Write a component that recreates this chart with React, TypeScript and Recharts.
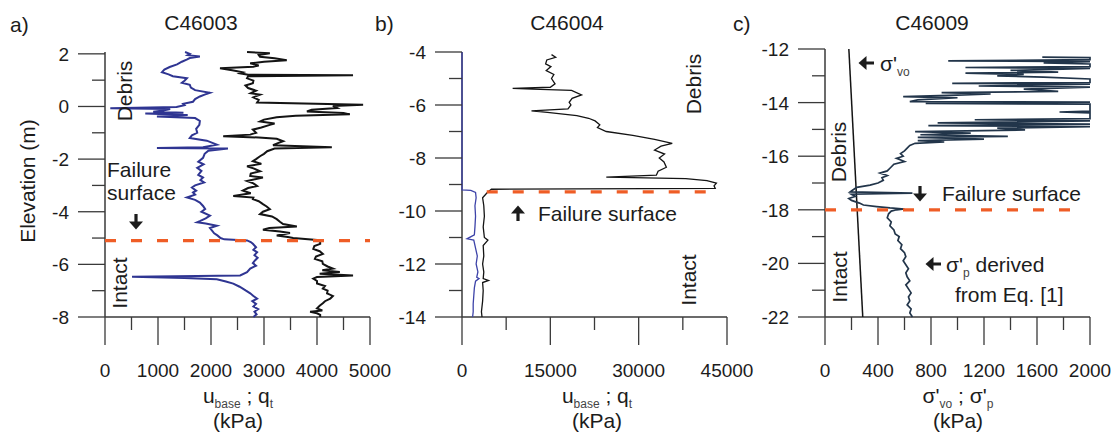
import React from 'react';
import { ScatterChart, Scatter, XAxis, YAxis } from 'recharts';

// [elevation (m), value (kPa)]
type Pt = [number, number];

// ---- C46003 ----
const ubaseC46003: Pt[] = [
  [2.07, 1510], [2.0, 1600], [1.95, 1560], [1.9, 1790], [1.84, 1600], [1.78, 1540], [1.7, 1450],
  [1.6, 1360], [1.5, 1220], [1.4, 1120], [1.3, 1075], [1.22, 1200], [1.15, 1280], [1.07, 1545],
  [0.98, 1500], [0.9, 1450], [0.82, 1600], [0.72, 1620], [0.62, 1700], [0.52, 1980], [0.45, 1880],
  [0.38, 1790], [0.28, 1700], [0.18, 1660], [0.1, 1475], [0.05, 1500], [-0.02, 1350], [-0.07, 100],
  [-0.1, 1230], [-0.15, 1100], [-0.2, 910], [-0.24, 1480], [-0.27, 760], [-0.32, 1560], [-0.38, 980],
  [-0.44, 1700], [-0.55, 1790], [-0.7, 1780], [-0.85, 1720], [-1.0, 1740], [-1.1, 1640], [-1.2, 1600],
  [-1.3, 1920], [-1.45, 2110], [-1.55, 1850], [-1.58, 980], [-1.6, 2320], [-1.68, 1950], [-1.8, 1880],
  [-1.95, 1850], [-2.1, 1760], [-2.2, 1860], [-2.33, 1740], [-2.45, 1820], [-2.6, 1760], [-2.7, 1850],
  [-2.8, 1800], [-2.89, 1870], [-3.0, 1700], [-3.08, 1640], [-3.2, 1720], [-3.27, 1660], [-3.35, 1700],
  [-3.46, 1545], [-3.55, 1700], [-3.65, 1790], [-3.78, 1850], [-3.9, 1890], [-4.0, 1820], [-4.15, 1980],
  [-4.25, 1900], [-4.35, 1800], [-4.4, 1740], [-4.45, 1900], [-4.53, 2110], [-4.62, 1980], [-4.72, 2020],
  [-4.82, 2060], [-4.9, 2120], [-5.0, 2180], [-5.05, 2250], [-5.09, 2680], [-5.15, 2750], [-5.22, 2790],
  [-5.35, 2850], [-5.45, 2800], [-5.54, 2870], [-5.65, 2820], [-5.75, 2880], [-5.85, 2830], [-5.95, 2790],
  [-6.05, 2850], [-6.16, 2740], [-6.3, 2680], [-6.42, 2550], [-6.47, 510], [-6.52, 1500], [-6.57, 2110],
  [-6.65, 2280], [-6.73, 2420], [-6.85, 2540], [-6.92, 2600], [-7.0, 2660], [-7.1, 2740], [-7.2, 2800],
  [-7.3, 2870], [-7.4, 2780], [-7.5, 2850], [-7.6, 2800], [-7.7, 2890], [-7.8, 2820], [-7.9, 2860],
  [-8.0, 2800],
];
const qtC46003: Pt[] = [
  [2.07, 2680], [2.02, 3110], [1.96, 2900], [1.89, 2925], [1.83, 3200], [1.76, 3430], [1.7, 3000],
  [1.64, 2740], [1.56, 2900], [1.51, 2800], [1.45, 2170], [1.38, 2400], [1.3, 2600], [1.26, 2550],
  [1.21, 2700], [1.19, 4680], [1.15, 2700], [1.07, 2680], [0.98, 2800], [0.88, 2790], [0.8, 2650],
  [0.7, 2700], [0.6, 2850], [0.5, 2750], [0.45, 2925], [0.35, 2800], [0.25, 2900], [0.15, 2870],
  [0.07, 4870], [0.02, 4300], [-0.06, 4380], [-0.12, 3900], [-0.19, 3810], [-0.25, 4500], [-0.3, 4620],
  [-0.35, 3600], [-0.41, 3240], [-0.5, 3000], [-0.57, 2925], [-0.65, 3200], [-0.7, 3110], [-0.8, 2950],
  [-0.88, 2790], [-1.0, 2850], [-1.07, 2740], [-1.13, 2230], [-1.18, 2900], [-1.23, 3240], [-1.32, 3360],
  [-1.4, 3250], [-1.47, 3170], [-1.55, 4280], [-1.6, 3200], [-1.7, 3060], [-1.8, 3000], [-1.89, 2925],
  [-2.0, 2850], [-2.08, 2790], [-2.18, 2950], [-2.27, 2680], [-2.35, 2800], [-2.46, 2925], [-2.55, 2750],
  [-2.64, 2740], [-2.7, 2980], [-2.83, 2680], [-2.92, 2800], [-3.02, 2870], [-3.1, 2700], [-3.2, 2600],
  [-3.3, 2750], [-3.4, 2420], [-3.46, 2800], [-3.52, 2790], [-3.6, 2900], [-3.71, 2980], [-3.8, 3050],
  [-3.9, 3110], [-4.0, 2980], [-4.09, 2925], [-4.18, 3150], [-4.28, 3240], [-4.38, 3300], [-4.47, 3360],
  [-4.56, 3620], [-4.62, 3100], [-4.68, 2980], [-4.75, 3300], [-4.81, 3490], [-4.9, 3240], [-4.96, 3450],
  [-5.0, 3550], [-5.07, 4000], [-5.15, 4060], [-5.22, 4060], [-5.3, 3950], [-5.41, 3930], [-5.5, 4050],
  [-5.6, 4110], [-5.7, 3980], [-5.79, 3960], [-5.88, 4100], [-5.98, 4110], [-6.08, 4200], [-6.16, 4300],
  [-6.22, 4100], [-6.29, 4430], [-6.36, 4050], [-6.42, 4680], [-6.48, 4000], [-6.54, 3930], [-6.63, 4000],
  [-6.73, 4000], [-6.82, 4150], [-6.92, 4110], [-7.0, 4200], [-7.1, 4190], [-7.2, 4300], [-7.3, 4250],
  [-7.4, 4150], [-7.48, 4110], [-7.57, 4050], [-7.67, 4000], [-7.75, 4100], [-7.8, 3870], [-7.86, 4000],
  [-7.92, 4060], [-8.0, 4060],
];

// ---- C46004 ----
const ubaseC46004: Pt[] = [
  [-4.0, 0], [-9.2, 0], [-9.22, 1500], [-9.3, 2300], [-9.5, 2400], [-9.8, 2200], [-10.2, 2300],
  [-10.6, 2200], [-10.9, 2100], [-11.05, 850], [-11.1, 2000], [-11.4, 2300], [-11.7, 2600], [-12.0, 2400],
  [-12.3, 2700], [-12.5, 2500], [-12.55, 2900], [-12.65, 2300], [-12.9, 2100], [-13.2, 2000],
  [-13.5, 1900], [-13.8, 1900], [-14.0, 1800],
];
const qtC46004: Pt[] = [
  [-4.1, 15200], [-4.2, 15900], [-4.3, 14400], [-4.45, 14200], [-4.55, 15100], [-4.7, 14300],
  [-4.85, 15600], [-5.0, 15200], [-5.2, 15800], [-5.33, 15000], [-5.37, 8600], [-5.4, 12000],
  [-5.45, 18600], [-5.62, 20300], [-5.75, 18700], [-5.9, 18200], [-6.0, 18500], [-6.15, 18000],
  [-6.22, 11800], [-6.28, 14500], [-6.4, 19500], [-6.5, 21500], [-6.6, 22600], [-6.75, 23400],
  [-6.85, 23000], [-7.0, 24500], [-7.15, 29000], [-7.3, 32700], [-7.45, 35700], [-7.55, 33800],
  [-7.7, 32700], [-7.85, 34400], [-8.0, 33500], [-8.15, 34300], [-8.35, 34700], [-8.5, 33300],
  [-8.65, 33000], [-8.72, 24500], [-8.78, 38000], [-8.85, 41600], [-8.95, 43200], [-9.05, 42800],
  [-9.15, 43000], [-9.18, 5000], [-9.3, 4300], [-9.5, 3500], [-9.8, 3700], [-10.2, 3800], [-10.6, 3600],
  [-11.0, 3800], [-11.1, 4400], [-11.3, 3600], [-11.7, 3700], [-12.0, 3500], [-12.3, 3700],
  [-12.55, 3600], [-12.62, 4500], [-12.7, 3500], [-13.0, 3600], [-13.4, 3500], [-13.8, 3300], [-14.0, 3400],
];

// ---- C46009 ----
const sigmaVoC46009: Pt[] = [[-12.0, 180], [-22.0, 285]];
const sigmaPC46009: Pt[] = [
  [-12.3, 1640], [-12.32, 2000], [-12.4, 2000], [-12.44, 930], [-12.47, 2000], [-12.52, 1650],
  [-12.56, 2000], [-12.66, 2000], [-12.69, 1060], [-12.72, 2000], [-12.8, 1400], [-12.86, 1760],
  [-12.9, 1060], [-12.95, 1500], [-13.0, 1300], [-13.05, 1650], [-13.12, 2000], [-13.25, 2000],
  [-13.28, 960], [-13.31, 2000], [-13.38, 1160], [-13.42, 2000], [-13.5, 1500], [-13.58, 1760],
  [-13.63, 880], [-13.68, 1250], [-13.72, 1000], [-13.78, 590], [-13.82, 1000], [-13.9, 700],
  [-13.96, 640], [-13.98, 2000], [-14.03, 760], [-14.06, 2000], [-14.32, 2000], [-14.35, 1770],
  [-14.38, 2000], [-14.6, 2000], [-14.64, 1130], [-14.68, 2000], [-14.76, 850], [-14.8, 2000],
  [-14.86, 780], [-14.9, 2000], [-14.95, 1300], [-15.02, 1510], [-15.08, 680], [-15.14, 1100],
  [-15.2, 720], [-15.26, 1380], [-15.3, 700], [-15.36, 1200], [-15.42, 700], [-15.47, 900],
  [-15.52, 680], [-15.6, 640], [-15.7, 620], [-15.8, 600], [-15.9, 570], [-16.0, 590], [-16.08, 540],
  [-16.2, 600], [-16.3, 520], [-16.45, 490], [-16.55, 470], [-16.63, 415], [-16.72, 470], [-16.8, 430],
  [-16.9, 440], [-17.0, 400], [-17.08, 340], [-17.16, 240], [-17.26, 210], [-17.33, 190], [-17.38, 660],
  [-17.42, 200], [-17.5, 230], [-17.58, 180], [-17.65, 200], [-17.75, 260], [-17.82, 290], [-17.88, 390],
  [-17.93, 490], [-17.97, 600], [-18.0, 540], [-18.05, 500], [-18.15, 480], [-18.3, 470], [-18.45, 500],
  [-18.6, 490], [-18.75, 520], [-18.9, 530], [-19.0, 560], [-19.15, 550], [-19.3, 580], [-19.45, 570],
  [-19.6, 600], [-19.75, 610], [-19.9, 590], [-20.05, 610], [-20.2, 630], [-20.35, 610], [-20.5, 620],
  [-20.65, 640], [-20.8, 610], [-20.95, 630], [-21.1, 650], [-21.25, 630], [-21.4, 640], [-21.55, 620],
  [-21.7, 650], [-21.85, 640], [-22.0, 660],
];

// failure surfaces: [elevation, from kPa, to kPa]
const failureC46003: [number, number, number] = [-5.1, 0, 5000];
const failureC46004: [number, number, number] = [-9.28, 4200, 43000];
const failureC46009: [number, number, number] = [-18.0, 0, 1910];

// ticks
const xTicksA = [0, 500, 1000, 1500, 2000, 2500, 3000, 3500, 4000, 4500, 5000];
const yTicksA = [2, 1, 0, -1, -2, -3, -4, -5, -6, -7, -8];
const xTicksB = [0, 7500, 15000, 22500, 30000, 37500, 45000];
const yTicksB = [-4, -5, -6, -7, -8, -9, -10, -11, -12, -13, -14];
const xTicksC = [0, 200, 400, 600, 800, 1000, 1200, 1400, 1600, 1800, 2000];
const yTicksC = [-12, -13, -14, -15, -16, -17, -18, -19, -20, -21, -22];

const FONT = 'Arial, "Liberation Sans", Helvetica, sans-serif';
const AXIS = '#3a3a3a';
const TEXT = '#1c1c1c';
const BLUE = '#2f3592';
const BLACK = '#141414';
const SLATE = '#22354a';
const ORANGE = '#ef5d26';
const PLOT_W = 265;
const Y_W = 60;

const NoDot = () => <g />;

const isMajor = (v: number, step: number) => Math.abs(v % step) < 1e-6;

const makeYTick = (step: number) => (props: any) => {
  const { x, y, payload } = props;
  const major = isMajor(payload.value, step);
  return (
    <g>
      <line x1={x - (major ? 27 : 13)} x2={x} y1={y} y2={y} stroke={AXIS} strokeWidth={1.3} />
      {major && (
        <text x={x - 36} y={y + 7} textAnchor="end" fontSize={19} fontFamily={FONT} fill={TEXT}>
          {payload.value}
        </text>
      )}
    </g>
  );
};

const makeXTick = (step: number) => (props: any) => {
  const { x, y, payload } = props;
  const major = isMajor(payload.value, step);
  return (
    <g>
      <line x1={x} x2={x} y1={y} y2={y + (major ? 28 : 13)} stroke={AXIS} strokeWidth={1.3} />
      {major && (
        <text x={x} y={y + 60} textAnchor="middle" fontSize={19} fontFamily={FONT} fill={TEXT}>
          {payload.value}
        </text>
      )}
    </g>
  );
};

interface SeriesDef {
  pts: Pt[];
  color: string;
  width: number;
}

interface PanelProps {
  left: number;
  width: number;
  plotLeft: number;
  top: number;
  xDomain: [number, number];
  xTicks: number[];
  xStep: number;
  yDomain: [number, number];
  yTicks: number[];
  series: SeriesDef[];
  failure: [number, number, number];
}

const toData = (pts: Pt[]) => pts.map(([e, v]) => ({ e, v }));

const Panel = ({ left, width, plotLeft, top, xDomain, xTicks, xStep, yDomain, yTicks, series, failure }: PanelProps) => {
  const ml = plotLeft - left - Y_W;
  const mr = width - (plotLeft - left) - PLOT_W;
  const [fe, f0, f1] = failure;
  return (
    <div style={{ position: 'absolute', left, top: 0 }}>
      <ScatterChart width={width} height={440} margin={{ top, right: mr, bottom: 63, left: ml }}>
        <XAxis
          type="number"
          dataKey="v"
          domain={xDomain}
          ticks={xTicks}
          interval={0}
          height={60}
          tickSize={0}
          tickMargin={0}
          tickLine={false}
          axisLine={{ stroke: AXIS, strokeWidth: 1.5 }}
          tick={makeXTick(xStep)}
        />
        <YAxis
          type="number"
          dataKey="e"
          domain={yDomain}
          ticks={yTicks}
          interval={0}
          width={Y_W}
          tickSize={0}
          tickMargin={0}
          tickLine={false}
          axisLine={{ stroke: AXIS, strokeWidth: 1.5 }}
          tick={makeYTick(2)}
        />
        {series.map((s, idx) => (
          <Scatter
            key={idx}
            data={toData(s.pts)}
            shape={NoDot}
            line={{ stroke: s.color, strokeWidth: s.width }}
            isAnimationActive={false}
          />
        ))}
        <Scatter
          data={[{ e: fe, v: f0 }, { e: fe, v: f1 }]}
          shape={NoDot}
          line={{ stroke: ORANGE, strokeWidth: 3.2, strokeDasharray: '11 15' }}
          isAnimationActive={false}
        />
      </ScatterChart>
    </div>
  );
};

interface TxtProps {
  x: number;
  y: number;
  children: React.ReactNode;
  size?: number;
  rotate?: boolean;
  align?: 'left' | 'center';
}

const Txt = ({ x, y, children, size = 21, rotate = false, align = 'center' }: TxtProps) => (
  <div
    style={{
      position: 'absolute',
      left: x,
      top: y,
      fontSize: size,
      lineHeight: 1,
      whiteSpace: 'nowrap',
      color: TEXT,
      transform: `translate(${align === 'left' ? '0' : '-50%'}, -50%)${rotate ? ' rotate(-90deg)' : ''}`,
    }}
  >
    {children}
  </div>
);

const Sub = ({ children }: { children: React.ReactNode }) => (
  <span style={{ fontSize: 12, position: 'relative', top: 5, color: '#444' }}>{children}</span>
);

// bold filled arrow, drawn pointing up and rotated
const Arrow = ({ x, y, dir }: { x: number; y: number; dir: 'up' | 'down' | 'left' }) => {
  const deg = dir === 'up' ? 0 : dir === 'down' ? 180 : -90;
  return (
    <svg
      width={16}
      height={16}
      viewBox="0 0 16 16"
      style={{ position: 'absolute', left: x - 8, top: y - 8, transform: `rotate(${deg}deg)` }}
    >
      <line x1={8} y1={6} x2={8} y2={16} stroke={TEXT} strokeWidth={3.2} />
      <polygon points="1,8.5 8,0.5 15,8.5" fill={TEXT} />
    </svg>
  );
};

const App = () => (
  <div
    style={{
      position: 'absolute',
      left: 0,
      top: 0,
      width: 1118,
      height: 440,
      background: '#fff',
      fontFamily: FONT,
      overflow: 'hidden',
    }}
  >
    <Panel
      left={0}
      width={400}
      plotLeft={105}
      top={52}
      xDomain={[0, 5000]}
      xTicks={xTicksA}
      xStep={1000}
      yDomain={[-8, 2]}
      yTicks={yTicksA}
      series={[
        { pts: ubaseC46003, color: BLUE, width: 2 },
        { pts: qtC46003, color: BLACK, width: 2 },
      ]}
      failure={failureC46003}
    />
    <Panel
      left={370}
      width={392}
      plotLeft={462}
      top={52}
      xDomain={[0, 45000]}
      xTicks={xTicksB}
      xStep={15000}
      yDomain={[-14, -4]}
      yTicks={yTicksB}
      series={[
        { pts: ubaseC46004, color: '#3d43a8', width: 1.3 },
        { pts: qtC46004, color: BLACK, width: 1.3 },
      ]}
      failure={failureC46004}
    />
    <Panel
      left={730}
      width={388}
      plotLeft={825}
      top={49}
      xDomain={[0, 2000]}
      xTicks={xTicksC}
      xStep={400}
      yDomain={[-22, -12]}
      yTicks={yTicksC}
      series={[
        { pts: sigmaVoC46009, color: BLACK, width: 1.5 },
        { pts: sigmaPC46009, color: SLATE, width: 1.7 },
      ]}
      failure={failureC46009}
    />

    {/* panel a */}
    <Txt x={10} y={24} align="left">a)</Txt>
    <Txt x={201} y={22}>C46003</Txt>
    <Txt x={27} y={181} rotate>Elevation (m)</Txt>
    <Txt x={124} y={91} rotate>Debris</Txt>
    <Txt x={107} y={169} align="left">Failure</Txt>
    <Txt x={107} y={192} align="left">surface</Txt>
    <Arrow x={136} y={222} dir="down" />
    <Txt x={119} y={283} rotate>Intact</Txt>
    <Txt x={238} y={395}>u<Sub>base</Sub> ; q<Sub>t</Sub></Txt>
    <Txt x={238} y={420}>(kPa)</Txt>

    {/* panel b */}
    <Txt x={375} y={23} align="left">b)</Txt>
    <Txt x={567} y={22}>C46004</Txt>
    <Txt x={693} y={84} rotate>Debris</Txt>
    <Arrow x={518} y={213} dir="up" />
    <Txt x={538} y={213} align="left">Failure surface</Txt>
    <Txt x={688} y={280} rotate>Intact</Txt>
    <Txt x={597} y={395}>u<Sub>base</Sub> ; q<Sub>t</Sub></Txt>
    <Txt x={597} y={420}>(kPa)</Txt>

    {/* panel c */}
    <Txt x={733} y={23} align="left">c)</Txt>
    <Txt x={932} y={22}>C46009</Txt>
    <Txt x={838} y={152} rotate>Debris</Txt>
    <Arrow x={866} y={63} dir="left" />
    <Txt x={880} y={63} align="left">σ'<Sub>vo</Sub></Txt>
    <Arrow x={920} y={194} dir="down" />
    <Txt x={942} y={193} align="left">Failure surface</Txt>
    <Txt x={839} y={277} rotate>Intact</Txt>
    <Arrow x={933} y={264} dir="left" />
    <Txt x={946} y={264} align="left">σ'<Sub>p</Sub> derived</Txt>
    <Txt x={955} y={294} align="left">from Eq. [1]</Txt>
    <Txt x={958} y={395}>σ'<Sub>vo</Sub> ; σ'<Sub>p</Sub></Txt>
    <Txt x={958} y={420}>(kPa)</Txt>
  </div>
);

export default App;
